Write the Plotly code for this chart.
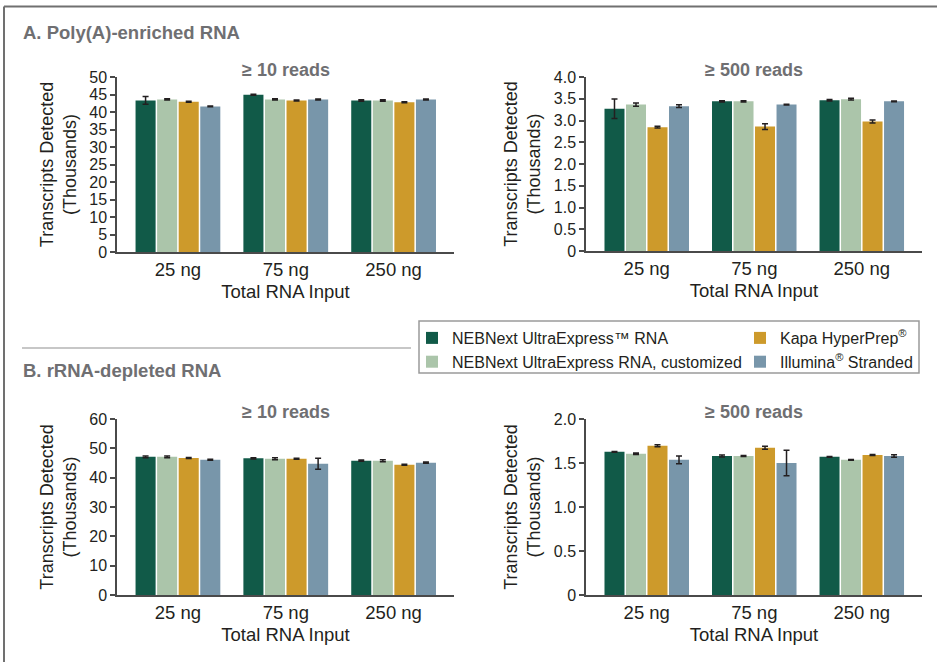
import plotly.graph_objects as go

# ---------------- data ----------------
categories = ["25 ng", "75 ng", "250 ng"]
series_names = [
    "NEBNext UltraExpress™ RNA",
    "NEBNext UltraExpress RNA, customized",
    "Kapa HyperPrep<sup>®</sup>",
    "Illumina<sup>®</sup> Stranded",
]
series_colors = ["#115a48", "#abc5aa", "#cd9a2b", "#7896aa"]

# A. Poly(A)-enriched RNA, >= 10 reads (thousands)
polya_10_means = [
    [43.3, 44.95, 43.3],
    [43.6, 43.6, 43.3],
    [42.95, 43.3, 42.8],
    [41.6, 43.6, 43.6],
]
polya_10_errs = [
    [1.1, 0.15, 0.2],
    [0.2, 0.2, 0.2],
    [0.15, 0.15, 0.15],
    [0.1, 0.15, 0.15],
]
# A. Poly(A)-enriched RNA, >= 500 reads
polya_500_means = [
    [3.27, 3.44, 3.465],
    [3.365, 3.44, 3.49],
    [2.845, 2.86, 2.975],
    [3.33, 3.365, 3.44],
]
polya_500_errs = [
    [0.225, 0.015, 0.015],
    [0.04, 0.015, 0.02],
    [0.02, 0.065, 0.035],
    [0.03, 0.01, 0.01],
]
# B. rRNA-depleted RNA, >= 10 reads
rrna_10_means = [
    [47.1, 46.6, 45.8],
    [47.1, 46.45, 45.8],
    [46.7, 46.45, 44.4],
    [46.1, 44.75, 45.1],
]
rrna_10_errs = [
    [0.3, 0.2, 0.2],
    [0.3, 0.35, 0.35],
    [0.2, 0.2, 0.2],
    [0.2, 1.9, 0.2],
]
# B. rRNA-depleted RNA, >= 500 reads
rrna_500_means = [
    [1.627, 1.58, 1.57],
    [1.605, 1.58, 1.536],
    [1.696, 1.673, 1.59],
    [1.536, 1.50, 1.58],
]
rrna_500_errs = [
    [0.005, 0.012, 0.005],
    [0.008, 0.005, 0.005],
    [0.012, 0.018, 0.006],
    [0.044, 0.146, 0.014],
]

polya_10_ticks = [0, 5, 10, 15, 20, 25, 30, 35, 40, 45, 50]
polya_500_ticks = [0, 0.5, 1.0, 1.5, 2.0, 2.5, 3.0, 3.5, 4.0]
polya_500_ticktext = ["0", "0.5", "1.0", "1.5", "2.0", "2.5", "3.0", "3.5", "4.0"]
rrna_10_ticks = [0, 10, 20, 30, 40, 50, 60]
rrna_500_ticks = [0, 0.5, 1.0, 1.5, 2.0]
rrna_500_ticktext = ["0", "0.5", "1.0", "1.5", "2.0"]

panel_titles = ["≥ 10 reads", "≥ 500 reads", "≥ 10 reads", "≥ 500 reads"]
section_titles = ["A. Poly(A)-enriched RNA", "B. rRNA-depleted RNA"]
x_title = "Total RNA Input"
y_title = "Transcripts Detected<br>(Thousands)"

# ---------------- figure ----------------
W, H = 937, 662
FONT = "Liberation Sans, Arial, Helvetica, sans-serif"
TXT = "#231f20"
GRAY = "#6f6f72"
AXC = "#4a4a4a"


def px(x):
    return x / W


def py(y):
    return 1 - y / H


panels = [
    (polya_10_means, polya_10_errs, "", (117, 454), (77, 252)),
    (polya_500_means, polya_500_errs, "2", (586, 922), (77, 251)),
    (rrna_10_means, rrna_10_errs, "3", (117, 454), (419, 595)),
    (rrna_500_means, rrna_500_errs, "4", (586, 922), (419, 595)),
]

fig = go.Figure()
for p, (means, errs, s, _, _) in enumerate(panels):
    for i in range(len(series_names)):
        fig.add_trace(go.Bar(
            x=categories, y=means[i],
            error_y=dict(type="data", array=errs[i], color="#231f20",
                         thickness=1.5, width=3),
            marker=dict(color=series_colors[i], line=dict(width=0)),
            name=series_names[i],
            showlegend=(p == 0),
            legend="legend" if i < 2 else "legend2",
            xaxis="x" + s, yaxis="y" + s,
            hoverinfo="x+y+name",
        ))

tick_cfg = [
    dict(range=[0, 50], tickvals=polya_10_ticks),
    dict(range=[0, 4], tickvals=polya_500_ticks, ticktext=polya_500_ticktext),
    dict(range=[0, 60], tickvals=rrna_10_ticks),
    dict(range=[0, 2], tickvals=rrna_500_ticks, ticktext=rrna_500_ticktext),
]

layout = dict(
    width=W, height=H, autosize=False,
    margin=dict(l=0, r=0, t=0, b=0, autoexpand=False),
    paper_bgcolor="white", plot_bgcolor="white",
    font=dict(family=FONT, color=TXT),
    barmode="group", bargap=0.2, bargroupgap=0.07,
    legend=dict(x=px(412), y=py(321), xanchor="left", yanchor="top",
                bgcolor="rgba(0,0,0,0)", font=dict(size=16, color=TXT),
                traceorder="normal"),
    legend2=dict(x=px(740), y=py(321), xanchor="left", yanchor="top",
                 bgcolor="rgba(0,0,0,0)", font=dict(size=16, color=TXT),
                 traceorder="normal"),
)

for p, (_, _, s, (x0, x1), (y0, y1)) in enumerate(panels):
    layout["xaxis" + s] = dict(
        domain=[px(x0), px(x1)], anchor="y" + s, type="category",
        range=[-0.565, 2.56], showline=True, linecolor=AXC, linewidth=1.5,
        ticks="", showgrid=False, zeroline=False, automargin=False,
        tickfont=dict(size=18.5, color=TXT),
        title=dict(text=x_title, font=dict(size=18.5, color=TXT), standoff=6),
    )
    layout["yaxis" + s] = dict(
        domain=[py(y1), py(y0)], anchor="x" + s,
        showline=True, linecolor=AXC, linewidth=1.5,
        ticks="outside", ticklen=5, tickwidth=1.5, tickcolor=AXC,
        showgrid=False, zeroline=False, automargin=False,
        tickfont=dict(size=16, color=TXT),
        title=dict(text=y_title, font=dict(size=18, color=TXT), standoff=8),
        **tick_cfg[p],
    )

fig.update_layout(**layout)

annotations = []
for p, (_, _, s, (x0, x1), (y0, y1)) in enumerate(panels):
    annotations.append(dict(
        text=panel_titles[p], x=px((x0 + x1) / 2), y=py(y0 - 7),
        xref="paper", yref="paper", xanchor="center", yanchor="middle",
        showarrow=False, font=dict(size=18, color=GRAY, weight="bold"),
    ))
annotations.append(dict(text=section_titles[0], x=px(21), y=py(33),
                        xref="paper", yref="paper", xanchor="left", yanchor="middle",
                        showarrow=False, font=dict(size=18.5, color=GRAY, weight="bold")))
annotations.append(dict(text=section_titles[1], x=px(21), y=py(370),
                        xref="paper", yref="paper", xanchor="left", yanchor="middle",
                        showarrow=False, font=dict(size=18.5, color=GRAY, weight="bold")))
fig.update_layout(annotations=annotations)

shapes = [
    # outer frame (top and left)
    dict(type="line", xref="paper", yref="paper", x0=px(4), x1=1, y0=py(6.5), y1=py(6.5),
         line=dict(color="#707070", width=2)),
    dict(type="line", xref="paper", yref="paper", x0=px(4), x1=px(4), y0=0, y1=py(6.5),
         line=dict(color="#707070", width=2)),
    # separator between sections
    dict(type="line", xref="paper", yref="paper", x0=px(22), x1=px(411), y0=py(348), y1=py(348),
         line=dict(color="#b4b4b4", width=1.5)),
    # legend box
    dict(type="rect", xref="paper", yref="paper", x0=px(419), x1=px(919), y0=py(373), y1=py(321),
         line=dict(color="#9a9a9a", width=1.5), fillcolor="rgba(0,0,0,0)"),
]
fig.update_layout(shapes=shapes)

fig.write_html("out.html", config={"displayModeBar": False},
               post_script="document.body.style.margin='0';")
